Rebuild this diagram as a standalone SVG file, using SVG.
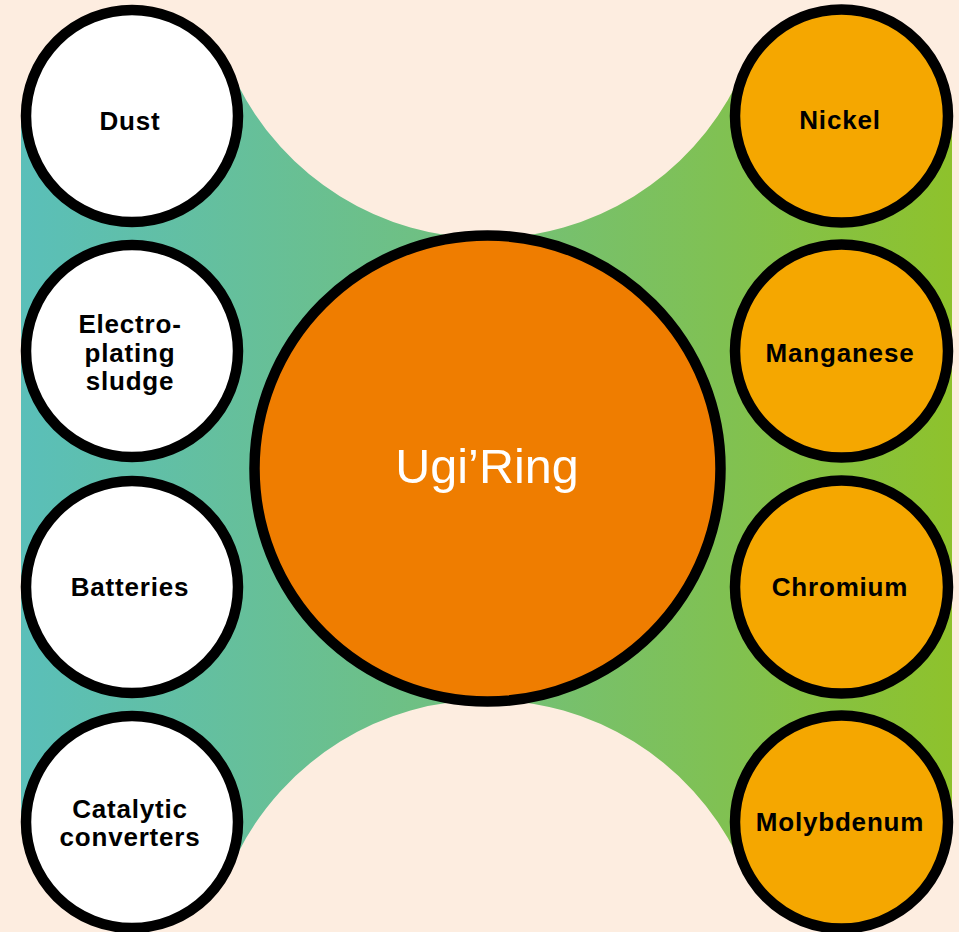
<svg xmlns="http://www.w3.org/2000/svg" width="959" height="932" viewBox="0 0 959 932">
  <defs>
    <linearGradient id="bandFill" x1="21" y1="0" x2="952" y2="0" gradientUnits="userSpaceOnUse">
      <stop offset="0" stop-color="#5abfb9"/>
      <stop offset="0.5" stop-color="#72c07a"/>
      <stop offset="1" stop-color="#8ec22c"/>
    </linearGradient>
    <style>
      .node circle { stroke: #000; stroke-width: 10.5; }
      .src circle { fill: #ffffff; }
      .out circle { fill: #f5a700; }
      .hub circle { fill: #ef7d00; }
      .lbl { font-family: "Liberation Sans", Arial, Helvetica, sans-serif; font-weight: bold; font-size: 26px; letter-spacing: 0.8px; fill: #000; text-anchor: middle; }
      .hubLbl { font-family: "Liberation Sans", Arial, Helvetica, sans-serif; font-size: 48.5px; fill: #fff; text-anchor: middle; }
    </style>
  </defs>

  <!-- page background -->
  <rect x="0" y="0" width="959" height="932" fill="#fdede0"/>

  <!-- connectors: gradient band joining inputs and outputs through the hub -->
  <g id="connectors">
    <path d="M21,116 H132 L237,83 A279,279 0 0 0 737,83 L841,116 H952 V822 H841 L737,855 A279,279 0 0 0 237,855 L132,822 H21 Z" fill="url(#bandFill)"/>
  </g>

  <!-- input materials -->
  <g id="dust" class="node src">
    <circle cx="132" cy="116" r="106"/>
    <text class="lbl" x="130" y="130">Dust</text>
  </g>
  <g id="electroplating-sludge" class="node src">
    <circle cx="132" cy="351" r="106"/>
    <text class="lbl" x="130" y="333">Electro-</text>
    <text class="lbl" x="130" y="362">plating</text>
    <text class="lbl" x="130" y="390">sludge</text>
  </g>
  <g id="batteries" class="node src">
    <circle cx="132" cy="587" r="106"/>
    <text class="lbl" x="130" y="596">Batteries</text>
  </g>
  <g id="catalytic-converters" class="node src">
    <circle cx="132" cy="822" r="106"/>
    <text class="lbl" x="130" y="818">Catalytic</text>
    <text class="lbl" x="130" y="846">converters</text>
  </g>

  <!-- central process -->
  <g id="ugiring" class="node hub">
    <circle cx="487.5" cy="468.5" r="233"/>
    <text class="hubLbl" x="487" y="483">Ugi’Ring</text>
  </g>

  <!-- recovered metals -->
  <g id="nickel" class="node out">
    <circle cx="841.5" cy="116" r="106.5"/>
    <text class="lbl" x="840" y="129">Nickel</text>
  </g>
  <g id="manganese" class="node out">
    <circle cx="841.5" cy="351" r="106.5"/>
    <text class="lbl" x="840" y="362">Manganese</text>
  </g>
  <g id="chromium" class="node out">
    <circle cx="841.5" cy="587" r="106.5"/>
    <text class="lbl" x="840" y="596">Chromium</text>
  </g>
  <g id="molybdenum" class="node out">
    <circle cx="841.5" cy="822" r="106.5"/>
    <text class="lbl" x="840" y="831">Molybdenum</text>
  </g>
</svg>
